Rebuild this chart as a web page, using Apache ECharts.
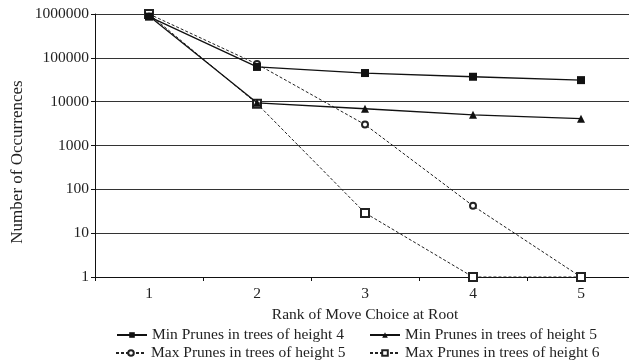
<!DOCTYPE html>
<html>
<head>
<meta charset="utf-8">
<script src="https://cdn.jsdelivr.net/npm/echarts@6/dist/echarts.min.js"></script>
<style>html,body{margin:0;padding:0;background:#fff;overflow:hidden;width:629px;height:362px;}#c{width:635px;height:362px;}</style>
</head>
<body>
<div id="c"></div>
<script>
const categories = ['1', '2', '3', '4', '5'];
const minPrunesH4 = [870000, 62000, 45000, 37000, 31000];
const minPrunesH5 = [900000, 9400, 6900, 5000, 4100];
const maxPrunesH5 = [1000000, 72000, 3000, 42, 1];
const maxPrunesH6 = [1000000, 9000, 29, 1, 1];
const yTicks = [1, 10, 100, 1000, 10000, 100000, 1000000];

const FONT = "'Liberation Serif', 'Times New Roman', serif";
const FS = 15.5;
const TXT = '#222';
const chart = echarts.init(document.getElementById('c'), null, {renderer: 'canvas'});

function legendAt(name, left, top) {
  return {
    data: [name], left: left, top: top, orient: 'horizontal',
    itemWidth: 30, itemHeight: 7, itemGap: 5, padding: 0,
    textStyle: {fontFamily: FONT, fontSize: FS, color: TXT},
    selectedMode: false
  };
}

const names = [
  'Min Prunes in trees of height 4',
  'Min Prunes in trees of height 5',
  'Max Prunes in trees of height 5',
  'Max Prunes in trees of height 6'
];

chart.setOption({
  animation: false,
  backgroundColor: '#fff',
  grid: {left: 95, right: 0, top: 14, bottom: 85, containLabel: false},
  legend: [
    legendAt(names[0], 116, 327),
    legendAt(names[1], 369, 327),
    legendAt(names[2], 115, 345),
    legendAt(names[3], 369, 345)
  ],
  xAxis: {
    type: 'category', data: categories, boundaryGap: true,
    name: 'Rank of Move Choice at Root', nameLocation: 'middle', nameGap: 26,
    nameTextStyle: {fontFamily: FONT, fontSize: FS, color: TXT},
    axisLine: {lineStyle: {color: '#111', width: 1}},
    axisTick: {show: true, inside: false, length: 4, alignWithLabel: false, lineStyle: {color: '#111'}},
    axisLabel: {fontFamily: FONT, fontSize: FS, color: TXT, margin: 9},
    splitLine: {show: false}
  },
  yAxis: {
    type: 'log', logBase: 10, min: yTicks[0], max: yTicks[yTicks.length - 1],
    axisLine: {show: true, lineStyle: {color: '#111', width: 1}},
    axisTick: {show: true, inside: false, length: 4, lineStyle: {color: '#111'}},
    axisLabel: {fontFamily: FONT, fontSize: FS, color: TXT, margin: 6,
      formatter: function (v) { return String(Math.round(v)); }},
    splitLine: {show: true, lineStyle: {color: '#333', width: 1}},
    minorTick: {show: false}
  },
  graphic: [{
    type: 'text', x: 18, y: 162, rotation: Math.PI / 2,
    style: {text: 'Number of Occurrences', font: '17px ' + FONT, fill: TXT, align: 'center', verticalAlign: 'middle'}
  }],
  series: [
    {
      name: names[2], type: 'line', data: maxPrunesH5, z: 2,
      symbol: 'emptyCircle', symbolSize: 6,
      lineStyle: {color: '#222', width: 1, type: [3, 2]},
      itemStyle: {color: '#222', borderColor: '#222', borderWidth: 1}
    },
    {
      name: names[3], type: 'line', data: maxPrunesH6, z: 2,
      symbol: 'emptyRect', symbolSize: 8,
      lineStyle: {color: '#222', width: 1, type: [3, 2]},
      itemStyle: {color: '#222', borderColor: '#222', borderWidth: 1}
    },
    {
      name: names[1], type: 'line', data: minPrunesH5, z: 3,
      symbol: 'triangle', symbolSize: 8,
      lineStyle: {color: '#111', width: 1.3},
      itemStyle: {color: '#111'}
    },
    {
      name: names[0], type: 'line', data: minPrunesH4, z: 4,
      symbol: 'rect', symbolSize: 8,
      lineStyle: {color: '#111', width: 1.3},
      itemStyle: {color: '#111'}
    }
  ]
});
</script>
</body>
</html>
